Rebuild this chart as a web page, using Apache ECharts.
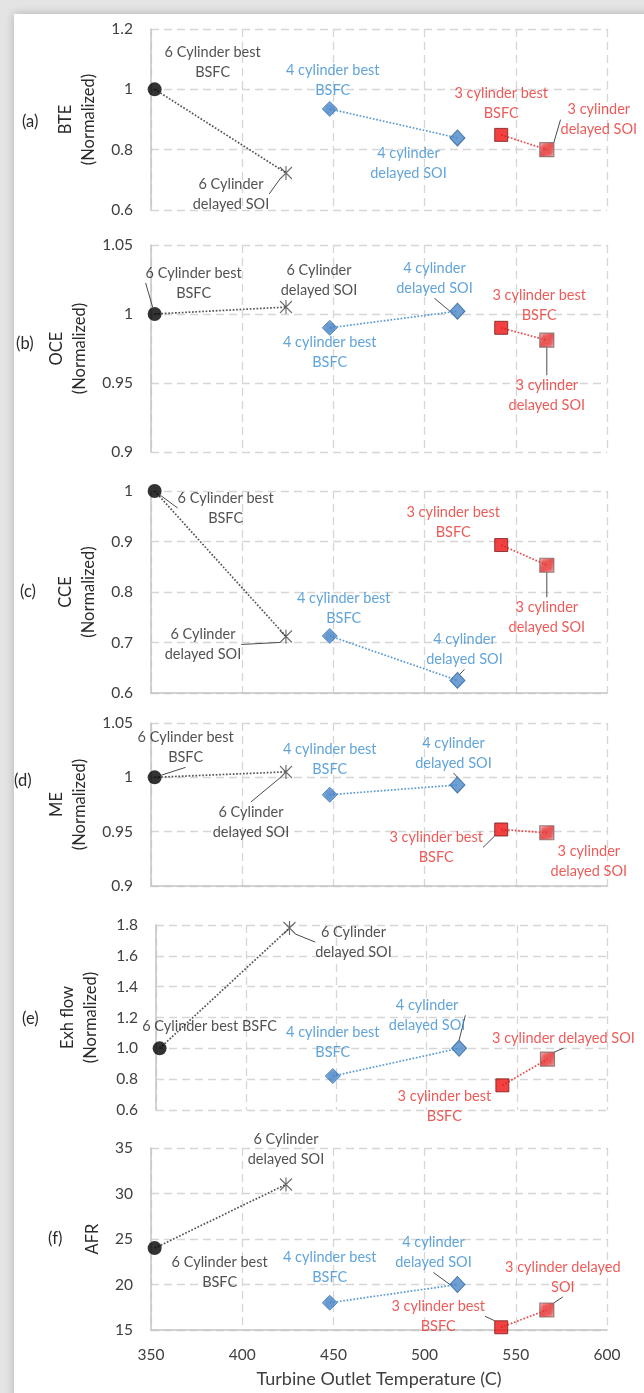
<!DOCTYPE html>
<html><head><meta charset="utf-8">
<script src="https://cdn.jsdelivr.net/npm/echarts/dist/echarts.min.js"></script>
<style>
html,body{margin:0;padding:0;background:#e4e4e4;overflow:hidden;}
#card{position:absolute;left:14px;top:14px;width:640px;height:1390px;background:#fff;box-shadow:0 0 9px rgba(0,0,0,0.22);}
#chart{position:absolute;left:0;top:0;width:644px;height:1393px;}
</style></head><body><div id="card"></div><div id="chart"></div>
<script>
// ---------- DATA ----------
const configs = ['6 Cylinder best BSFC','6 Cylinder delayed SOI','4 cylinder best BSFC','4 cylinder delayed SOI','3 cylinder best BSFC','3 cylinder delayed SOI'];
const turbineOutletTemp = [352, 424, 448, 518, 542, 567];
const bte     = [1.000, 0.723, 0.935, 0.839, 0.849, 0.800];
const oce     = [1.000, 1.005, 0.990, 1.002, 0.990, 0.981];
const cce     = [1.000, 0.712, 0.713, 0.625, 0.893, 0.853];
const me      = [1.000, 1.005, 0.984, 0.993, 0.952, 0.949];
const exhFlow = [1.00, 1.78, 0.82, 1.00, 0.76, 0.93];
const afr     = [24.0, 31.0, 18.0, 20.0, 15.3, 17.2];
const xTicks = [350, 400, 450, 500, 550, 600];
const panelLetters = ['(a)','(b)','(c)','(d)','(e)','(f)'];
const yNames = ['BTE\n(Normalized)','OCE\n(Normalized)','CCE\n(Normalized)','ME\n(Normalized)','Exh flow\n(Normalized)','AFR'];
const labelsStd = ['6 Cylinder best\nBSFC','6 Cylinder\ndelayed SOI','4 cylinder best\nBSFC','4 cylinder\ndelayed SOI','3 cylinder best\nBSFC','3 cylinder\ndelayed SOI'];
const labelsE = ['6 Cylinder best BSFC','6 Cylinder\ndelayed SOI','4 cylinder best\nBSFC','4 cylinder\ndelayed SOI','3 cylinder best\nBSFC','3 cylinder delayed SOI'];
const labelsF = ['6 Cylinder best\nBSFC','6 Cylinder\ndelayed SOI','4 cylinder best\nBSFC','4 cylinder\ndelayed SOI','3 cylinder best\nBSFC','3 cylinder delayed\nSOI'];
const yRanges = [[0.6,1.2,0.2],[0.9,1.05,0.05],[0.6,1.0,0.1],[0.9,1.05,0.05],[0.6,1.8,0.2],[15,35,5]];
const xTitle = 'Turbine Outlet Temperature (C)';

// ---------- LAYOUT / STYLE ----------
const FONT = 'Lato, "Open Sans", sans-serif';
const panels = [
  {vals: bte, labels: labelsStd, grid:{top:29,h:181,left:151}, letter:[33,123], gap:50, xLine:false,
   off:[[58,-27],[-55,21],[3,-29],[-49,25],[0,-32],[52,-30]], lead:[0,1,0,0,0,1]},
  {vals: oce, labels: labelsStd, grid:{top:245,h:207,left:151}, letter:[27,345], gap:59, xLine:false,
   off:[[39,-31],[33,-27],[0,25],[-23,-33],[38,-22],[0,55]], lead:[1,0,0,1,0,1]},
  {vals: cce, labels: labelsStd, grid:{top:491,h:202,left:151}, letter:[31,593], gap:48, xLine:true,
   off:[[71,17],[-83,8],[14,-28],[7,-31],[-48,-23],[0,52]], lead:[1,1,0,1,0,1]},
  {vals: me, labels: labelsStd, grid:{top:723,h:163,left:151}, letter:[25,782], gap:55, xLine:true,
   off:[[31,-30],[-35,50],[0,-35],[-4,-32],[-65,18],[42,29]], lead:[1,1,0,1,1,0]},
  {vals: exhFlow, labels: labelsE, grid:{top:925,h:185,left:156}, letter:[33,1020], gap:54, xLine:false, fmt1:true,
   off:[[50,-22],[64,14],[0,-34],[-32,-33],[-58,21],[16,-21]], lead:[0,1,0,1,0,1]},
  {vals: afr, labels: labelsF, grid:{top:1148,h:182,left:151}, letter:[59,1240], gap:43, xLine:true, showX:true,
   off:[[65,24],[0,-35],[0,-35],[-24,-32],[-63,-11],[16,-33]], lead:[0,0,0,1,1,1]}
];
const groups = [[0,1],[2,3],[4,5]];
const lineColors = ['#555555','#5b9bd5','#ee4a4a'];
const textColors = ['#262626','#262626','#3a8dd0','#3a8dd0','#e8322e','#e8322e'];

function hatch(fg, bg){
  const n = 5;
  const c = document.createElement('canvas'); c.width = n; c.height = n;
  const g = c.getContext('2d'); g.fillStyle = bg; g.fillRect(0,0,n,n);
  g.strokeStyle = fg; g.lineWidth = 2.4; g.beginPath();
  g.moveTo(0,n); g.lineTo(n,0); g.moveTo(-n/2,n/2); g.lineTo(n/2,-n/2); g.moveTo(n/2,n*1.5); g.lineTo(n*1.5,n/2);
  g.stroke();
  return {image: c, repeat: 'repeat'};
}
const blueHatch = hatch('#3f7fc4', '#ffffff');
const redHatch = hatch('#e62a2a', '#ffffff');
const markerStyles = [
  {symbol:'circle', symbolSize:14, itemStyle:{color:'#000'}},
  {symbol:'path://M0,0L10,12M10,0L0,12M5,-1L5,13', symbolSize:[12,14], itemStyle:{color:'rgba(0,0,0,0)', borderColor:'#444', borderWidth:1.2}},
  {symbol:'diamond', symbolSize:[15,15], itemStyle:{color:blueHatch, borderColor:'#3b76b8', borderWidth:1}},
  {symbol:'diamond', symbolSize:[15,16], itemStyle:{color:'#4a88c9', borderColor:'#2d5f96', borderWidth:1}},
  {symbol:'rect', symbolSize:13, itemStyle:{color:'#ee1111', borderColor:'#7a1c1c', borderWidth:1}},
  {symbol:'rect', symbolSize:14, itemStyle:{color:redHatch, borderColor:'#7a6a6a', borderWidth:1.2}}
];

const grid = [], xAxis = [], yAxis = [], series = [], graphic = [];
panels.forEach((p, i) => {
  grid.push({left:p.grid.left, right:37, top:p.grid.top, height:p.grid.h});
  const dashed = {show:true, lineStyle:{color:'#d6d6d6', type:[8,5], width:1.3}};
  xAxis.push({
    gridIndex:i, type:'value', min:xTicks[0], max:xTicks[xTicks.length-1], interval:xTicks[1]-xTicks[0],
    axisLine:{show:p.xLine, lineStyle:{color:'#c4c4c4', width:1.5}}, axisTick:{show:false},
    axisLabel:{show:!!p.showX, fontSize:15.5, color:'#404040', fontFamily:FONT, margin:17},
    splitLine: dashed,
    name: p.showX ? xTitle : '', nameLocation:'middle', nameGap:40,
    nameTextStyle:{fontSize:18, color:'#404040', fontFamily:FONT}
  });
  const r = yRanges[i];
  yAxis.push({
    gridIndex:i, type:'value', min:r[0], max:r[1], interval:r[2],
    axisLine:{show:true, lineStyle:{color:'#c4c4c4', width:1.5}}, axisTick:{show:false},
    axisLabel:{fontSize:15.5, color:'#404040', fontFamily:FONT, margin:18,
      formatter: p.fmt1 ? (v => v.toFixed(1)) : (v => String(+v.toFixed(2)))},
    splitLine: dashed,
    name: yNames[i], nameLocation:'middle', nameRotate:90, nameGap:p.gap,
    nameTextStyle:{fontSize:16.5, color:'#2a2a2a', fontFamily:FONT, lineHeight:23}
  });
  groups.forEach((g, gi) => {
    series.push({
      type:'line', xAxisIndex:i, yAxisIndex:i, silent:true, symbol:'none', z:1,
      data: g.map(k => [turbineOutletTemp[k], p.vals[k]]),
      lineStyle:{type:'dotted', width:1.7, color:lineColors[gi]}
    });
  });
  series.push({
    type:'scatter', xAxisIndex:i, yAxisIndex:i, z:3, silent:true,
    data: p.vals.map((v, k) => Object.assign({
      value:[turbineOutletTemp[k], v],
      label:{show:true, formatter:p.labels[k], color:textColors[k]},
      labelLine:{show: !!p.lead[k]}
    }, markerStyles[k])),
    label:{position:'inside', fontSize:14.5, lineHeight:20, fontFamily:FONT, textBorderWidth:0},
    labelLine:{lineStyle:{color:'#4a4a4a', width:1}},
    labelLayout: (params) => ({dx: p.off[params.dataIndex][0], dy: p.off[params.dataIndex][1]})
  });
  graphic.push({type:'text', left:p.letter[0]-11, top:p.letter[1]-10,
    style:{text:panelLetters[i], fontSize:16.5, fill:'#2a2a2a', fontFamily:FONT}});
});

const chart = echarts.init(document.getElementById('chart'), null, {renderer:'canvas'});
chart.setOption({animation:false, backgroundColor:'transparent', grid, xAxis, yAxis, series, graphic});
</script></body></html>
